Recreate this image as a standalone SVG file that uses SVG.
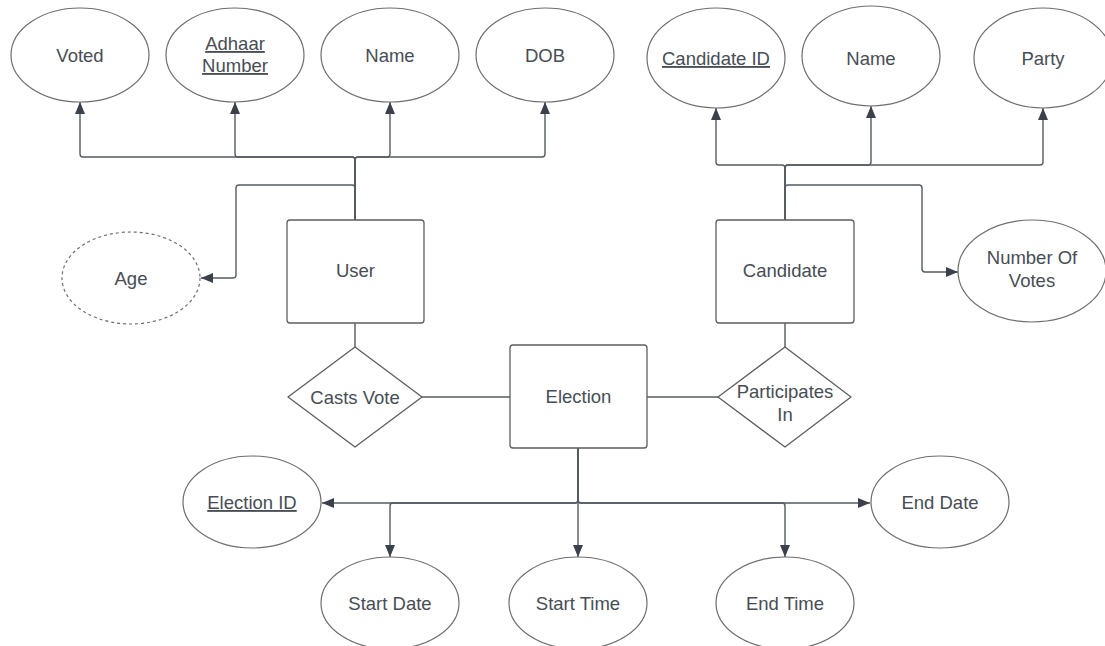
<svg xmlns="http://www.w3.org/2000/svg" width="1105" height="646" viewBox="0 0 1105 646">
<style>
.bg{fill:#ffffff}
.attr{fill:#ffffff;stroke:#6e6e6e;stroke-width:1.2}
.derived{fill:#ffffff;stroke:#6e6e6e;stroke-width:1.2;stroke-dasharray:3 3}
.ent{fill:#ffffff;stroke:#5e5e5e;stroke-width:1.3}
.rel{fill:#ffffff;stroke:#5e5e5e;stroke-width:1.3;stroke-linejoin:round}
.t{font-family:"Liberation Sans",Arial,sans-serif;font-size:18.5px;fill:#474d55;text-anchor:middle}
.u{text-decoration:underline}
.c{fill:none;stroke:#555b61;stroke-width:1.4}
</style>
<defs>
<marker id="ah" viewBox="0 0 12 10" refX="12" refY="5" markerWidth="12" markerHeight="10" markerUnits="userSpaceOnUse" orient="auto">
<path d="M0,0 L12,5 L0,10 Z" fill="#3a414a"/>
</marker>
</defs>
<rect class="bg" x="0" y="0" width="1105" height="646"/>

<g id="connectors">
<path class="c" d="M355,220 V160 Q355,157 352,157 H83 Q80,157 80,154 V102" marker-end="url(#ah)"/>
<path class="c" d="M355,220 V160 Q355,157 352,157 H238 Q235,157 235,154 V102" marker-end="url(#ah)"/>
<path class="c" d="M355,220 V160 Q355,157 358,157 H387 Q390,157 390,154 V102" marker-end="url(#ah)"/>
<path class="c" d="M355,220 V160 Q355,157 358,157 H542 Q545,157 545,154 V102" marker-end="url(#ah)"/>
<path class="c" d="M355,220 V188 Q355,185 352,185 H239 Q236,185 236,188 V275 Q236,278 233,278 H201" marker-end="url(#ah)"/>
<path class="c" d="M785,220 V168 Q785,165 782,165 H719 Q716,165 716,162 V108" marker-end="url(#ah)"/>
<path class="c" d="M785,220 V168 Q785,165 788,165 H868 Q871,165 871,162 V106" marker-end="url(#ah)"/>
<path class="c" d="M785,220 V168 Q785,165 788,165 H1040 Q1043,165 1043,162 V108" marker-end="url(#ah)"/>
<path class="c" d="M785,220 V188 Q785,185 788,185 H919 Q922,185 922,188 V269 Q922,272 925,272 H958" marker-end="url(#ah)"/>
<path class="c" d="M355,323 V347"/>
<path class="c" d="M785,323 V347"/>
<path class="c" d="M422,397 H510"/>
<path class="c" d="M647,397 H718"/>
<path class="c" d="M578,448 V500 Q578,503 575,503 H322" marker-end="url(#ah)"/>
<path class="c" d="M578,448 V500 Q578,503 575,503 H393 Q390,503 390,506 V557" marker-end="url(#ah)"/>
<path class="c" d="M578,448 V557" marker-end="url(#ah)"/>
<path class="c" d="M578,448 V500 Q578,503 581,503 H782 Q785,503 785,506 V557" marker-end="url(#ah)"/>
<path class="c" d="M578,448 V500 Q578,503 581,503 H870" marker-end="url(#ah)"/>
</g>

<g id="voted"><ellipse class="attr" cx="80" cy="55" rx="69" ry="47"/><text class="t" x="80" y="62">Voted</text></g>
<g id="adhaar"><ellipse class="attr" cx="235" cy="55" rx="69" ry="47"/><text class="t u" x="235" y="50">Adhaar</text><text class="t u" x="235" y="72">Number</text></g>
<g id="user-name"><ellipse class="attr" cx="390" cy="55" rx="69" ry="47"/><text class="t" x="390" y="62">Name</text></g>
<g id="dob"><ellipse class="attr" cx="545" cy="55" rx="69" ry="47"/><text class="t" x="545" y="62">DOB</text></g>
<g id="age"><ellipse class="derived" cx="131" cy="278" rx="69" ry="46"/><text class="t" x="131" y="285">Age</text></g>
<g id="user"><rect class="ent" x="287" y="220" width="137" height="103" rx="3"/><text class="t" x="355.5" y="277">User</text></g>

<g id="candidate-id"><ellipse class="attr" cx="716" cy="58" rx="69" ry="50"/><text class="t u" x="716" y="65">Candidate ID</text></g>
<g id="candidate-name"><ellipse class="attr" cx="871" cy="56" rx="69" ry="50"/><text class="t" x="871" y="65">Name</text></g>
<g id="party"><ellipse class="attr" cx="1043" cy="58" rx="69" ry="50"/><text class="t" x="1043" y="65">Party</text></g>
<g id="number-of-votes"><ellipse class="attr" cx="1032" cy="271" rx="74" ry="51"/><text class="t" x="1032" y="264">Number Of</text><text class="t" x="1032" y="287">Votes</text></g>
<g id="candidate"><rect class="ent" x="716" y="220" width="138" height="103" rx="3"/><text class="t" x="785" y="277">Candidate</text></g>

<g id="casts-vote"><path class="rel" d="M355,347 L422,397 L355,447 L288,397 Z"/><text class="t" x="355" y="404">Casts Vote</text></g>
<g id="election"><rect class="ent" x="510" y="345" width="137" height="103" rx="3"/><text class="t" x="578.5" y="403">Election</text></g>
<g id="participates-in"><path class="rel" d="M785,347 L851,397 L785,447 L718,397 Z"/><text class="t" x="785" y="398">Participates</text><text class="t" x="785" y="421">In</text></g>

<g id="election-id"><ellipse class="attr" cx="252" cy="502" rx="69" ry="46"/><text class="t u" x="252" y="509">Election ID</text></g>
<g id="end-date"><ellipse class="attr" cx="940" cy="502" rx="69" ry="46"/><text class="t" x="940" y="509">End Date</text></g>
<g id="start-date"><ellipse class="attr" cx="390" cy="603" rx="69" ry="46"/><text class="t" x="390" y="610">Start Date</text></g>
<g id="start-time"><ellipse class="attr" cx="578" cy="603" rx="69" ry="46"/><text class="t" x="578" y="610">Start Time</text></g>
<g id="end-time"><ellipse class="attr" cx="785" cy="603" rx="69" ry="46"/><text class="t" x="785" y="610">End Time</text></g>
</svg>
